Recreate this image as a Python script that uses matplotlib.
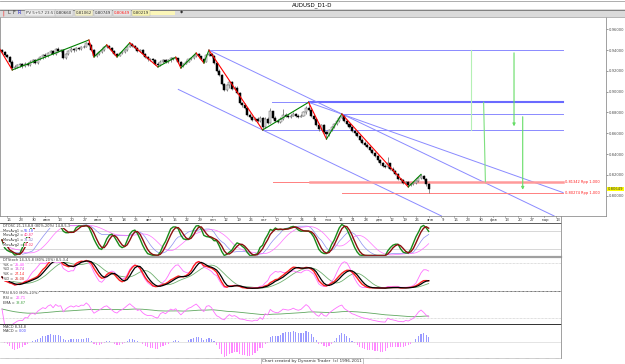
import numpy as np
import pandas as pd
import matplotlib
matplotlib.use('Agg')
import matplotlib.pyplot as plt
from matplotlib.lines import Line2D
from matplotlib.patches import Rectangle

W, H = 625, 364
X0, DX = 2.0, 2.555            # pixel of first candle, pixels per trading day
P0, PY, PSCALE = 0.96, 29.3, 1040.0

# --- AUDUSD daily, 14 May 2014 .. 2 Jan 2015 ---
OPEN0 = 0.9400
CLOSE = [
    0.9385, 0.9350, 0.9335,
    0.9290, 0.9225, 0.9240, 0.9255, 0.9262,
    0.9245, 0.9270, 0.9258, 0.9290, 0.9300,
    0.9280, 0.9310, 0.9330, 0.9350, 0.9340,
    0.9372, 0.9390, 0.9362, 0.9410, 0.9392,
    0.9400, 0.9322, 0.9362, 0.9390, 0.9412,
    0.9398, 0.9420, 0.9410, 0.9432, 0.9430,
    0.9470, 0.9450, 0.9402, 0.9342, 0.9360,
    0.9380, 0.9400, 0.9428, 0.9440, 0.9418,
    0.9392, 0.9362, 0.9348, 0.9370, 0.9382,
    0.9402, 0.9430, 0.9460, 0.9440, 0.9420,
    0.9392, 0.9400, 0.9362, 0.9330, 0.9310,
    0.9312, 0.9300, 0.9270, 0.9260, 0.9290,
    0.9300, 0.9282, 0.9300, 0.9320, 0.9310,
    0.9322, 0.9290, 0.9250, 0.9270, 0.9290,
    0.9310, 0.9320, 0.9340, 0.9360, 0.9340,
    0.9310, 0.9290, 0.9350, 0.9360, 0.9340,
    0.9280, 0.9200, 0.9160, 0.9070, 0.9020,
    0.9060, 0.9090, 0.9030, 0.9040, 0.8990,
    0.8890, 0.8870, 0.8840, 0.8780, 0.8760,
    0.8730, 0.8740, 0.8720, 0.8750, 0.8660,
    0.8740, 0.8700, 0.8810, 0.8750, 0.8720,
    0.8710, 0.8740, 0.8780, 0.8770, 0.8760,
    0.8770, 0.8790, 0.8770, 0.8760, 0.8770,
    0.8800, 0.8840, 0.8820, 0.8770, 0.8740,
    0.8680, 0.8640, 0.8680, 0.8610, 0.8590,
    0.8630, 0.8660, 0.8690, 0.8720, 0.8750,
    0.8770, 0.8720, 0.8690, 0.8660, 0.8620,
    0.8600, 0.8570, 0.8540, 0.8510, 0.8490,
    0.8470, 0.8440, 0.8410, 0.8380, 0.8340,
    0.8310, 0.8290, 0.8280, 0.8310, 0.8260,
    0.8240, 0.8210, 0.8160, 0.8150, 0.8120,
    0.8130, 0.8100, 0.8110, 0.8120, 0.8140,
    0.8170, 0.8190, 0.8160, 0.8110, 0.80649,
]
HIGH = [
    0.9410, 0.9395, 0.9365,
    0.9345, 0.9300, 0.9260, 0.9270, 0.9280,
    0.9275, 0.9285, 0.9282, 0.9300, 0.9318,
    0.9310, 0.9322, 0.9345, 0.9362, 0.9372,
    0.9385, 0.9402, 0.9398, 0.9420, 0.9425,
    0.9415, 0.9408, 0.9370, 0.9400, 0.9425,
    0.9420, 0.9432, 0.9430, 0.9442, 0.9445,
    0.9482, 0.9497, 0.9458, 0.9410, 0.9372,
    0.9392, 0.9412, 0.9440, 0.9450, 0.9448,
    0.9425, 0.9400, 0.9370, 0.9380, 0.9395,
    0.9412, 0.9440, 0.9470, 0.9468, 0.9448,
    0.9428, 0.9412, 0.9408, 0.9370, 0.9340,
    0.9325, 0.9322, 0.9310, 0.9282, 0.9300,
    0.9315, 0.9310, 0.9312, 0.9330, 0.9328,
    0.9332, 0.9328, 0.9298, 0.9280, 0.9302,
    0.9320, 0.9332, 0.9350, 0.9372, 0.9368,
    0.9348, 0.9318, 0.9360, 0.9400, 0.9372,
    0.9350, 0.9290, 0.9215, 0.9170, 0.9080,
    0.9075, 0.9105, 0.9100, 0.9055, 0.9050,
    0.8998, 0.8905, 0.8888, 0.8850, 0.8795,
    0.8770, 0.8755, 0.8752, 0.8765, 0.8760,
    0.8752, 0.8755, 0.8840, 0.8818, 0.8770,
    0.8735, 0.8752, 0.8838, 0.8795, 0.8785,
    0.8782, 0.8802, 0.8798, 0.8785, 0.8782,
    0.8812, 0.8860, 0.8898, 0.8830, 0.8782,
    0.8748, 0.8700, 0.8692, 0.8688, 0.8622,
    0.8642, 0.8672, 0.8702, 0.8732, 0.8762,
    0.8786, 0.8778, 0.8730, 0.8700, 0.8670,
    0.8635, 0.8612, 0.8582, 0.8552, 0.8525,
    0.8502, 0.8482, 0.8452, 0.8422, 0.8392,
    0.8350, 0.8322, 0.8300, 0.8375, 0.8318,
    0.8272, 0.8250, 0.8222, 0.8172, 0.8162,
    0.8145, 0.8138, 0.8122, 0.8128, 0.8152,
    0.8182, 0.8205, 0.8198, 0.8168, 0.8120,
]
LOW = [
    0.9370, 0.9340, 0.9320,
    0.9280, 0.9209, 0.9215, 0.9230, 0.9240,
    0.9232, 0.9238, 0.9245, 0.9250, 0.9275,
    0.9265, 0.9270, 0.9300, 0.9318, 0.9325,
    0.9335, 0.9360, 0.9350, 0.9355, 0.9380,
    0.9385, 0.9315, 0.9312, 0.9350, 0.9380,
    0.9385, 0.9390, 0.9398, 0.9402, 0.9418,
    0.9425, 0.9440, 0.9395, 0.9334, 0.9336,
    0.9352, 0.9372, 0.9392, 0.9420, 0.9410,
    0.9385, 0.9352, 0.9334, 0.9340, 0.9362,
    0.9375, 0.9395, 0.9425, 0.9432, 0.9410,
    0.9385, 0.9380, 0.9352, 0.9320, 0.9295,
    0.9298, 0.9288, 0.9258, 0.9238, 0.9250,
    0.9280, 0.9272, 0.9275, 0.9290, 0.9300,
    0.9302, 0.9280, 0.9228, 0.9240, 0.9262,
    0.9282, 0.9300, 0.9312, 0.9330, 0.9330,
    0.9300, 0.9276, 0.9285, 0.9340, 0.9325,
    0.9270, 0.9190, 0.9150, 0.9060, 0.9010,
    0.9005, 0.9040, 0.9020, 0.9015, 0.8980,
    0.8878, 0.8855, 0.8830, 0.8770, 0.8745,
    0.8720, 0.8715, 0.8705, 0.8708, 0.8632,
    0.8650, 0.8690, 0.8695, 0.8738, 0.8705,
    0.8695, 0.8700, 0.8730, 0.8752, 0.8748,
    0.8750, 0.8762, 0.8760, 0.8748, 0.8752,
    0.8765, 0.8790, 0.8810, 0.8760, 0.8730,
    0.8668, 0.8625, 0.8630, 0.8600, 0.8545,
    0.8575, 0.8620, 0.8648, 0.8680, 0.8710,
    0.8740, 0.8712, 0.8680, 0.8648, 0.8610,
    0.8588, 0.8560, 0.8530, 0.8498, 0.8478,
    0.8455, 0.8430, 0.8398, 0.8368, 0.8328,
    0.8298, 0.8278, 0.8268, 0.8270, 0.8250,
    0.8228, 0.8198, 0.8150, 0.8138, 0.8108,
    0.8110, 0.8084, 0.8092, 0.8102, 0.8110,
    0.8132, 0.8160, 0.8150, 0.8098, 0.80274,
]

# zigzag pivots (bar index, price)
ZZ_IDX = [-1.0, 4, 34, 36, 41, 45, 50, 61, 68, 70, 76, 79, 81, 102, 120, 127, 133, 159, 164]
ZZ_PRICE = [0.9415, 0.9209, 0.9497, 0.9334, 0.9450, 0.9334, 0.9470, 0.9238, 0.9332,
            0.9228, 0.9372, 0.9276, 0.9400, 0.8632, 0.8898, 0.8545, 0.8786, 0.8084, 0.8205]

# trend channel lines (start idx, start price, end idx, end price)
CH_X0 = [81, 120, 69]
CH_P0 = [0.9400, 0.8898, 0.9022]
CH_X1 = [216.1, 219.6, 172.0]
CH_P1 = [0.7805, 0.8030, 0.7805]

# horizontal levels
LEVEL_PRICE = [0.9400, 0.8898, 0.8786, 0.8632]
LEVEL_START = [81, 105.7, 133, 102]
LEVEL_END = 219.6
RED_PRICE = [0.81342, 0.80274]
RED_START = [106, 133]
RED_LABEL = ['0,81342 Rpp 1,000', '0,80274 Rpp 1,000']

# time projection verticals (idx top, price top, idx bottom, price bottom, arrow)
VT_X0 = [183.4, 188.5, 200.4, 203.8]
VT_P0 = [0.9400, 0.8898, 0.9400, 0.8786]
VT_X1 = [183.4, 189.2, 200.4, 203.8]
VT_P1 = [0.8632, 0.8134, 0.8640, 0.8030]
VT_ARROW = [False, False, True, True]

PRICE_TICKS = [0.80, 0.82, 0.84, 0.86, 0.88, 0.90, 0.92, 0.94, 0.96]
LAST_LABEL = '0,80649'

DATE_LABELS = ['16', '23', '30', 'июн', '13', '20', '27', 'июл', '11', '18', '25',
               'авг', '8', '15', '22', '29', 'сен', '12', '19', '26', 'окт', '10',
               '17', '24', '31', 'ноя', '14', '21', '28', 'дек', '12', '19', '26',
               'янв', '9', '16', '23', '30', 'фев', '13', '20', '27', 'мар', '13']
FIRST_FRIDAY = 2   # bar index of 16 May 2014

STOSC_TEXT = ['DTOSC 21,13,8,8 (80%-20%) 14,8,5,3', 'MovAvg1 =', 'MovAvg2 =', 'MovAvg1 =', 'MovAvg2 =']
STOSC_VALS = ['55,18', '40,87', '74,42', '84,02']
STOCH_TEXT = ['DTStoch 14,3,5,8 (80%-20%) 8,5,3,4', '%K =', '%D =', '%K =', '%D =']
STOCH_VALS = ['25,40', '13,74', '27,14', '25,08']
RSI_TEXT = ['RSI 8,50 (80%-20%)', 'RSI =', 'EMA =']
RSI_VALS = ['26,71', '38,87']
MACD_TEXT = ['MACD 8,34,8', 'MACD =']
MACD_VALS = ['0,00']


def px2idx(x):
    return (x - X0) / DX


def py2price(y):
    return P0 - (y - PY) / PSCALE


def fy(y):
    return 1 - y / H


fig = plt.figure(figsize=(W / 100, H / 100), dpi=100, facecolor='white')

# --- title bar and toolbar ---
fig.patches.append(Rectangle((0, fy(16.5)), 1, 7 / H, transform=fig.transFigure,
                             facecolor='#dadada', edgecolor='none'))
for yy, col in [(0.5, '#a0a0a0'), (9.5, '#707070'), (16.5, '#a8a8a8')]:
    fig.add_artist(Line2D([0, 1], [fy(yy)] * 2, color=col, lw=0.6))
fig.text(312 / W, fy(4.8), 'AUDUSD_D1-D', fontsize=4, ha='center', va='center')
fig.text(2 / W, fy(13), '|', fontsize=3.5, color='red', va='center')
for t, x, col in [('L', 7, '#333333'), ('F', 12.5, '#333333'), ('R', 18, '#2222cc')]:
    fig.text(x / W, fy(13), t, fontsize=3.5, color=col, va='center')
for t, x, col, bg in [('PV 5+57 23:57', 26, '#444444', '#eeeeee'), ('0,80660', 56, '#333333', '#e6e6e6'),
                      ('0,81062', 76, '#333333', '#f4f0c8'), ('0,80749', 95, '#333333', '#e6e6e6'),
                      ('0,80649', 114, '#ff2020', '#e6e6e6'), ('0,80219', 133, '#333333', '#f8f4b0')]:
    fig.text(x / W, fy(13), t, fontsize=2.9, color=col, va='center',
             bbox=dict(facecolor=bg, edgecolor='#b0b0b0', lw=0.3, pad=0.4))
fig.patches.append(Rectangle((148 / W, fy(15)), 27 / W, 4 / H, transform=fig.transFigure,
                             facecolor='#fbf6b8', edgecolor='none'))
fig.text(180 / W, fy(13), '\u25c6', fontsize=3, color='#333333', va='center')

# --- price panel ---
ax = fig.add_axes([0, fy(216), 606 / W, (216 - 17) / H])
ax.set_xlim(px2idx(0), px2idx(606))
ax.set_ylim(py2price(216), py2price(17))
for s in ax.spines.values():
    s.set_color('#909090')
    s.set_linewidth(0.6)
ax.spines['top'].set_visible(False)
ax.set_xticks([])
ax.yaxis.tick_right()
ax.set_yticks(PRICE_TICKS)
ax.set_yticklabels([f'{v:.5f}'.replace('.', ',') for v in PRICE_TICKS])
ax.tick_params(axis='y', labelsize=2.7, length=1.5, width=0.4, colors='#505050', pad=0.8)

n = len(CLOSE)
idx = np.arange(n)
c = np.array(CLOSE)
o = np.array([OPEN0] + CLOSE[:-1])
hi = np.maximum.reduce([np.array(HIGH), c, o])
lo = np.minimum.reduce([np.array(LOW), c, o])
up = c >= o

# levels and channel lines
for p, x0 in zip(LEVEL_PRICE, LEVEL_START):
    ax.plot([x0, LEVEL_END], [p, p], color='#8a8aff', lw=0.7, zorder=2)
ax.plot([120, LEVEL_END], [LEVEL_PRICE[1]] * 2, color='#6a6aff', lw=1.5, zorder=2)
for x0, p0, x1, p1 in zip(CH_X0, CH_P0, CH_X1, CH_P1):
    ax.plot([x0, x1], [p0, p1], color='#8a8aff', lw=0.7, zorder=2)
for p, x0, lab in zip(RED_PRICE, RED_START, RED_LABEL):
    ax.plot([x0, LEVEL_END], [p, p], color='#ff8080', lw=0.7, zorder=2)
    ax.text(px2idx(565), p, lab, fontsize=2.6, color='#ff2020', va='center')
ax.plot([120.5, LEVEL_END], [RED_PRICE[0]] * 2, color='#ff9a9a', lw=1.8, zorder=2)
for x0, p0, x1, p1, arr, col in zip(VT_X0, VT_P0, VT_X1, VT_P1, VT_ARROW,
                                     ['#b4f0b4', '#7ee07e', '#66dd66', '#66dd66']):
    if arr:
        ax.annotate('', xy=(x1, p1), xytext=(x0, p0),
                    arrowprops=dict(arrowstyle='-|>', color=col, lw=0.8, mutation_scale=4))
    else:
        ax.plot([x0, x1], [p0, p1], color=col, lw=0.8)

# candles
ax.vlines(idx, lo, hi, color='#606060', lw=0.5, zorder=3)
ax.bar(idx, np.maximum(np.abs(c - o), 0.0003), bottom=np.minimum(o, c), width=0.8,
       color=np.where(up, '#e4e4e4', '#000000'), edgecolor=np.where(up, '#606060', '#000000'),
       linewidth=0.35, zorder=4)

# zigzag
for i in range(len(ZZ_IDX) - 1):
    col = '#ff0000' if ZZ_PRICE[i + 1] < ZZ_PRICE[i] else '#008000'
    ax.plot(ZZ_IDX[i:i + 2], ZZ_PRICE[i:i + 2], color=col, lw=0.8, zorder=5)

ax.text(1.003, CLOSE[-1], LAST_LABEL, transform=ax.get_yaxis_transform(), fontsize=2.7,
        va='center', color='#333333', bbox=dict(facecolor='#ffff00', edgecolor='none', pad=0.3))

# --- date strip ---
axd = fig.add_axes([0, fy(222.5), 561 / W, 6.5 / H])
axd.set_xlim(px2idx(0), px2idx(561))
axd.set_ylim(0, 1)
axd.axis('off')
for k, lab in enumerate(DATE_LABELS):
    xi = FIRST_FRIDAY + 5 * k
    axd.plot([xi, xi], [0.8, 1.0], color='#707070', lw=0.4)
    axd.text(xi + 0.6, 0.4, lab, fontsize=2.7, ha='center', va='center', color='#333333')

# --- indicators ---
close = pd.Series(c)
high = pd.Series(hi)
low = pd.Series(lo)


def rsi(s, p):
    d = s.diff()
    g = d.clip(lower=0).ewm(alpha=1 / p, adjust=False).mean()
    l = (-d.clip(upper=0)).ewm(alpha=1 / p, adjust=False).mean()
    return (100 - 100 / (1 + g / l.replace(0, np.nan))).fillna(50)


def stoch(s, lo_s, hi_s, p):
    ll = lo_s.rolling(p, min_periods=1).min()
    hh = hi_s.rolling(p, min_periods=1).max()
    return (100 * (s - ll) / (hh - ll).replace(0, np.nan)).fillna(50)


def sma(s, p):
    return s.rolling(p, min_periods=1).mean()


r21 = rsi(close, 21)
slow_k = sma(stoch(r21, r21, r21, 13), 8)
slow_d = sma(slow_k, 8)
r14 = rsi(close, 14)
fast_k = sma(stoch(r14, r14, r14, 8), 5)
fast_d = sma(fast_k, 3)

st_k = sma(stoch(close, low, high, 14), 5)
st_d = sma(st_k, 3)
st_k2 = sma(stoch(close, low, high, 8), 5)
st_d2 = sma(st_k, 8)

r8 = rsi(close, 8)
r8_ema = r8.ewm(span=50, adjust=False).mean()

macd = close.ewm(span=8, adjust=False).mean() - close.ewm(span=34, adjust=False).mean()
hist = macd - macd.ewm(span=8, adjust=False).mean()


def panel(y_top, y_bot, ylim):
    a = fig.add_axes([0, fy(y_bot), 561 / W, (y_bot - y_top) / H])
    a.set_xlim(px2idx(0), px2idx(561))
    a.set_ylim(*ylim)
    a.axis('off')
    return a


def pct_lim(y_top, y_bot, y0, y100):
    s = (y0 - y100) / 100
    return ((y0 - y_bot) / s, (y0 - y_top) / s)


ax1 = panel(222.7, 256.3, pct_lim(222.7, 256.3, 255.5, 224.5))
for lv in (80, 20):
    ax1.axhline(lv, color='#c8c8c8', lw=0.5)
ax1.plot(idx, slow_k, color='#8c8cf0', lw=0.5)
ax1.plot(idx, slow_d, color='#ff70ff', lw=0.5)
ax1.plot(idx, fast_k, color='#1a8a1a', lw=1.0)
ax1.plot(idx, fast_d, color='#8b1010', lw=1.0)

ax2 = panel(257.6, 290.3, pct_lim(257.6, 290.3, 289.0, 257.0))
ax2.axhline(80, color='#c0c0c0', lw=0.5, ls=(0, (1, 1)))
ax2.plot(idx, st_d2, color='#70b070', lw=0.6)
ax2.plot(idx, st_k2, color='#ff70ff', lw=0.6)
ax2.plot(idx, st_k, color='#ff2020', lw=1.0)
ax2.plot(idx, st_d, color='#000000', lw=0.9)

ax3 = panel(290.8, 324.0, pct_lim(290.8, 324.0, 324.5, 293.5))
ax3.axhline(20, color='#c0c0c0', lw=0.5, ls=(0, (1, 1)))
ax3.plot(idx, r8_ema, color='#60a860', lw=0.6)
ax3.plot(idx, r8, color='#ff70ff', lw=0.6)

amp = float(np.abs(hist).max())
ax4 = panel(324.6, 358.0, (-amp * 19.7 / 18.5, amp * 13.7 / 12.5))
ax4.axhline(0, color='#d0d0d0', lw=0.4)
ax4.bar(idx, hist, width=0.45, color=np.where(hist >= 0, '#9a9aff', '#ff88ff'), linewidth=0)

# panel separators
for yy, col, lw, ls in [(222.7, '#404040', 0.6, '-'), (256.6, '#a0a0a0', 1.6, '-'),
                        (290.6, '#404040', 0.6, (0, (1, 0.6))), (324.3, '#303030', 0.7, '-'),
                        (358.3, '#909090', 0.5, (0, (1, 0.6)))]:
    fig.add_artist(Line2D([0, 561 / W], [fy(yy)] * 2, color=col, lw=lw, ls=ls))
fig.add_artist(Line2D([561 / W] * 2, [fy(216), fy(358.3)], color='#909090', lw=0.6))

# panel captions


def caption(x, y, text, col='#333333', size=2.5):
    fig.text(x / W, fy(y), text, fontsize=size, color=col, va='center',
             bbox=dict(facecolor='white', edgecolor='none', pad=0.0))


caption(3, 226.2, STOSC_TEXT[0])
for k, (t, v, col) in enumerate(zip(STOSC_TEXT[1:], STOSC_VALS,
                                    ['#4444ff', '#ff3388', '#8080cc', '#ff3366'])):
    caption(3, 230.8 + 4.6 * k, t)
    caption(23.5, 230.8 + 4.6 * k, v, col)
caption(3, 260.2, STOCH_TEXT[0])
for k, (t, v, col) in enumerate(zip(STOCH_TEXT[1:], STOCH_VALS,
                                    ['#ff33ff', '#cc33cc', '#ff2020', '#cc2020'])):
    caption(3, 264.8 + 4.7 * k, t)
    caption(15, 264.8 + 4.7 * k, v, col)
caption(3, 292.9, RSI_TEXT[0])
for k, (t, v, col) in enumerate(zip(RSI_TEXT[1:], RSI_VALS, ['#ff33ff', '#40a040'])):
    caption(3, 297.6 + 5.0 * k, t)
    caption(16, 297.6 + 5.0 * k, v, col)
caption(3, 326.8, MACD_TEXT[0])
caption(3, 331.3, MACD_TEXT[1])
caption(18.5, 331.3, MACD_VALS[0], '#4444ff')

fig.text(312 / W, fy(361), 'Chart created by Dynamic Trader  (c) 1996-2011', fontsize=3.0,
         ha='center', va='center', color='#333333',
         bbox=dict(facecolor='white', edgecolor='#909090', lw=0.4, pad=0.5))

fig.savefig('out.png', dpi=100, facecolor='white')
